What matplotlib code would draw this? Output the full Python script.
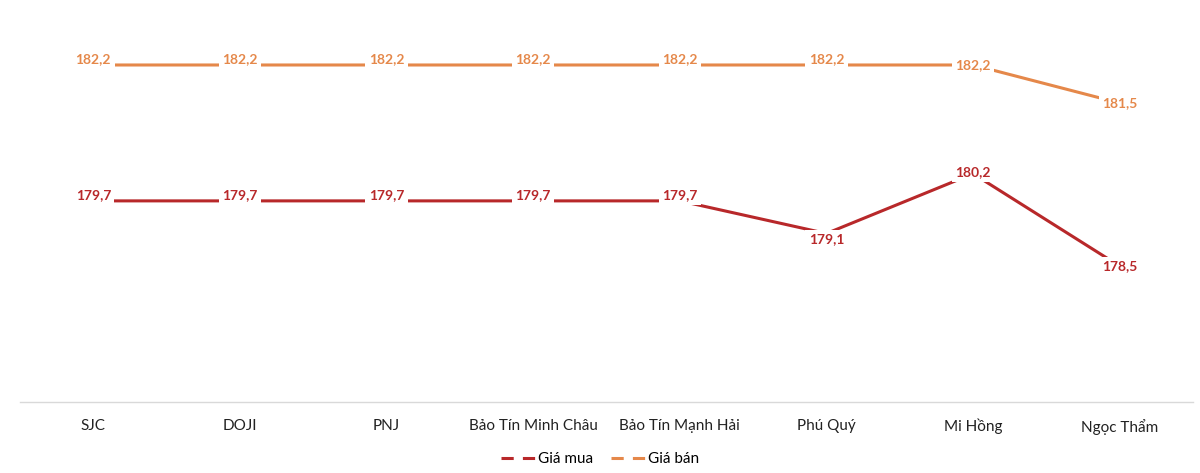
import matplotlib.pyplot as plt
from matplotlib.lines import Line2D

plt.rcParams['font.family'] = ['Lato', 'DejaVu Sans']

stores = ["SJC", "DOJI", "PNJ", "Bảo Tín Minh Châu", "Bảo Tín Mạnh Hải",
          "Phú Quý", "Mi Hồng", "Ngọc Thẩm"]
gia_mua = [179.7, 179.7, 179.7, 179.7, 179.7, 179.1, 180.2, 178.5]
gia_ban = [182.2, 182.2, 182.2, 182.2, 182.2, 182.2, 182.2, 181.5]

# label offsets in points (dy)
mua_dy = [4, 4, 4, 4, 4, -4, 1, 0]
ban_dy = [4, 4, 4, 4, 4, 4, 0, 0]

mau_mua = "#B8282A"
mau_ban = "#E5884A"

fig = plt.figure(figsize=(12, 4.73), dpi=100)
ax = fig.add_axes([20 / 1200, 1 - 402 / 473, 1173 / 1200, 380.5 / 473])

x = range(len(stores))
ax.plot(x, gia_mua, color=mau_mua, lw=2.2, zorder=2)
ax.plot(x, gia_ban, color=mau_ban, lw=2.2, zorder=2)

def nhan(values, dys, color):
    for i, (v, dy) in enumerate(zip(values, dys)):
        ax.annotate(f"{v:.1f}".replace(".", ","), (i, v), xytext=(0, dy),
                    textcoords="offset points", ha="center", va="center",
                    fontsize=10, fontweight="bold", color=color, zorder=3,
                    bbox=dict(facecolor="white", edgecolor="none", pad=2.5))

nhan(gia_mua, mua_dy, mau_mua)
nhan(gia_ban, ban_dy, mau_ban)

ax.set_xlim(-0.5, len(stores) - 0.5)
ax.set_ylim(176, 183)
ax.set_yticks([])
ax.set_xticks(list(x))
ax.set_xticklabels(stores, fontsize=11, color="#222222")
ax.tick_params(axis="x", length=0, pad=12)
for s in ["top", "left", "right"]:
    ax.spines[s].set_visible(False)
ax.spines["bottom"].set_color("#D9D9D9")
ax.spines["bottom"].set_linewidth(1)

handles = [Line2D([], [], color=mau_mua, lw=2.2, dashes=(4, 3)),
           Line2D([], [], color=mau_ban, lw=2.2, dashes=(4, 3))]
fig.legend(handles, ["Giá mua", "Giá bán"], loc="center", ncol=2,
           bbox_to_anchor=(0.5, 1 - 459 / 473), frameon=False,
           fontsize=11, handlelength=2.2, handletextpad=0.2, columnspacing=1.2)

fig.savefig("out.png", dpi=100)
